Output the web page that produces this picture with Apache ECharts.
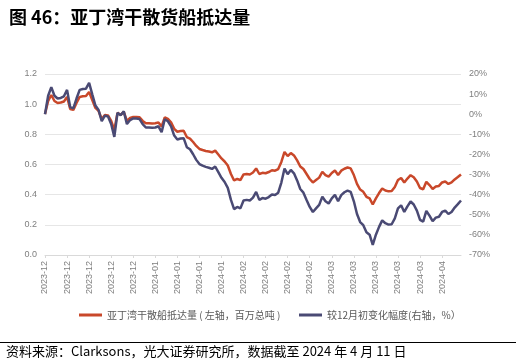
<!DOCTYPE html>
<html>
<head>
<meta charset="utf-8">
<script src="https://cdn.jsdelivr.net/npm/echarts@6/dist/echarts.min.js"></script>
<style>
html,body{margin:0;padding:0;background:#fff;}
#c{width:516px;height:364px;}
</style>
</head>
<body>
<div id="c"></div>
<script>
// daily dates from 2023-12-01 to 2024-04-11
var startDate = '2023-12-01';
var endDate = '2024-04-11';
var categories = [];
(function(){
  var d = new Date(startDate + 'T00:00:00Z');
  var e = new Date(endDate + 'T00:00:00Z');
  while (d <= e) {
    categories.push(d.toISOString().slice(0,10));
    d.setUTCDate(d.getUTCDate() + 1);
  }
})();

// 亚丁湾干散船抵达量（左轴，百万总吨）
var arrivals = [
0.935,1.021,1.061,1.021,1.008,1.011,1.018,1.048,0.968,0.962,
1.008,1.048,1.052,1.054,1.081,1.028,0.975,0.955,0.902,0.928,
0.925,0.889,0.829,0.942,0.930,0.948,0.889,0.908,0.915,0.915,
0.913,0.889,0.873,0.873,0.872,0.873,0.879,0.852,0.912,0.902,
0.879,0.836,0.817,0.822,0.824,0.782,0.772,0.749,0.723,0.703,
0.696,0.690,0.686,0.681,0.692,0.666,0.640,0.620,0.593,0.537,
0.494,0.504,0.497,0.534,0.537,0.534,0.547,0.574,0.537,0.545,
0.542,0.550,0.562,0.559,0.570,0.617,0.683,0.656,0.676,0.660,
0.627,0.587,0.570,0.537,0.504,0.481,0.497,0.513,0.552,0.530,
0.520,0.544,0.560,0.530,0.559,0.572,0.580,0.574,0.530,0.471,
0.434,0.419,0.386,0.375,0.335,0.375,0.411,0.441,0.428,0.422,
0.424,0.451,0.497,0.511,0.481,0.507,0.529,0.515,0.487,0.444,
0.436,0.485,0.464,0.438,0.454,0.458,0.481,0.487,0.471,0.481,
0.501,0.517,0.534
];

// 较12月初变化幅度（右轴，%）
var changePct = [
0.0,9.2,13.5,9.2,7.8,8.1,8.9,12.1,3.5,2.9,
7.8,12.1,12.5,12.7,15.6,9.9,4.3,2.1,-3.5,-0.7,
-1.1,-4.9,-11.3,0.7,-0.5,1.4,-4.9,-2.9,-2.1,-2.1,
-2.4,-4.9,-6.6,-6.6,-6.7,-6.6,-6.0,-8.9,-2.5,-3.5,
-6.0,-10.6,-12.6,-12.1,-11.9,-16.4,-17.4,-19.9,-22.7,-24.8,
-25.6,-26.2,-26.6,-27.2,-26.0,-28.8,-31.6,-33.7,-36.6,-42.6,
-47.2,-46.1,-46.8,-42.9,-42.6,-42.9,-41.5,-38.6,-42.6,-41.7,
-42.0,-41.2,-39.9,-40.2,-39.0,-34.0,-27.0,-29.8,-27.7,-29.4,
-32.9,-37.2,-39.0,-42.6,-46.1,-48.6,-46.8,-45.1,-41.0,-43.3,
-44.4,-41.8,-40.1,-43.3,-40.2,-38.8,-38.0,-38.6,-43.3,-49.6,
-53.6,-55.2,-58.7,-59.9,-65.0,-59.9,-56.0,-52.8,-54.2,-54.9,
-54.7,-51.8,-46.8,-45.3,-48.6,-45.8,-43.4,-44.9,-47.9,-52.5,
-53.4,-48.1,-50.4,-53.2,-51.4,-51.0,-48.6,-47.9,-49.6,-48.6,
-46.4,-44.7,-42.9
];

var titleText = '图 46：亚丁湾干散货船抵达量';
var sourceText = '资料来源：Clarksons，光大证券研究所，数据截至 2024 年 4 月 11 日';
var seriesNames = ['亚丁湾干散船抵达量 ( 左轴，百万总吨 )', '较12月初变化幅度(右轴，%）'];

var RED = '#C9482A', BLUE = '#4A4A74';
var FONT = '"Liberation Sans", "Noto Sans CJK SC", sans-serif';
var CJK = '"Noto Sans CJK SC", sans-serif';

var chart = echarts.init(document.getElementById('c'), null, {renderer:'canvas'});
chart.setOption({
  animation: false,
  backgroundColor: '#fff',
  title: {
    text: titleText, left: 4, top: 3,
    textStyle: {fontFamily: CJK, fontSize: 18, fontWeight: 'bold', color: '#000'}
  },
  legend: [
    {data: [seriesNames[0]], left: 74, top: 305, icon: 'rect', itemWidth: 23, itemHeight: 3,
     textStyle: {fontFamily: CJK, fontSize: 10, color: '#595959'}},
    {data: [seriesNames[1]], left: 294, top: 305, icon: 'rect', itemWidth: 23, itemHeight: 3,
     textStyle: {fontFamily: CJK, fontSize: 10, color: '#595959'}}
  ],
  grid: {left: 45, right: 55, top: 74, bottom: 109},
  xAxis: {
    type: 'category', data: categories, boundaryGap: false,
    axisLine: {lineStyle: {color: '#d9d9d9'}},
    axisTick: {show: true, interval: 6, length: 3, lineStyle: {color: '#d9d9d9'}},
    axisLabel: {interval: 6, rotate: 90, fontSize: 9, color: '#7f7f7f', fontFamily: FONT, margin: 6,
      formatter: function(v){ return v.slice(0,7); }}
  },
  yAxis: [
    {type: 'value', min: 0, max: 1.2, interval: 0.2,
     axisLine: {show: false}, axisTick: {show: false},
     splitLine: {lineStyle: {color: '#e6e6e6', width: 1}},
     axisLabel: {fontSize: 9, color: '#7f7f7f', fontFamily: FONT, margin: 8,
       formatter: function(v){ return v.toFixed(1); }}},
    {type: 'value', min: -70, max: 20, interval: 10, position: 'right',
     axisLine: {show: false}, axisTick: {show: false}, splitLine: {show: false},
     axisLabel: {fontSize: 9, color: '#7f7f7f', fontFamily: FONT, margin: 8, formatter: '{value}%'}}
  ],
  series: [
    {name: seriesNames[0], type: 'line', yAxisIndex: 0, data: arrivals, showSymbol: false,
     lineStyle: {color: RED, width: 2.5}, itemStyle: {color: RED}},
    {name: seriesNames[1], type: 'line', yAxisIndex: 1, data: changePct, showSymbol: false,
     lineStyle: {color: BLUE, width: 2.5}, itemStyle: {color: BLUE}}
  ],
  graphic: [
    {type: 'line', shape: {x1: 0, y1: 342.5, x2: 516, y2: 342.5}, style: {stroke: '#000', lineWidth: 1}},
    {type: 'text', left: 6, top: 345, style: {text: sourceText, font: '13px ' + CJK, fill: '#000'}}
  ]
});
</script>
</body>
</html>
